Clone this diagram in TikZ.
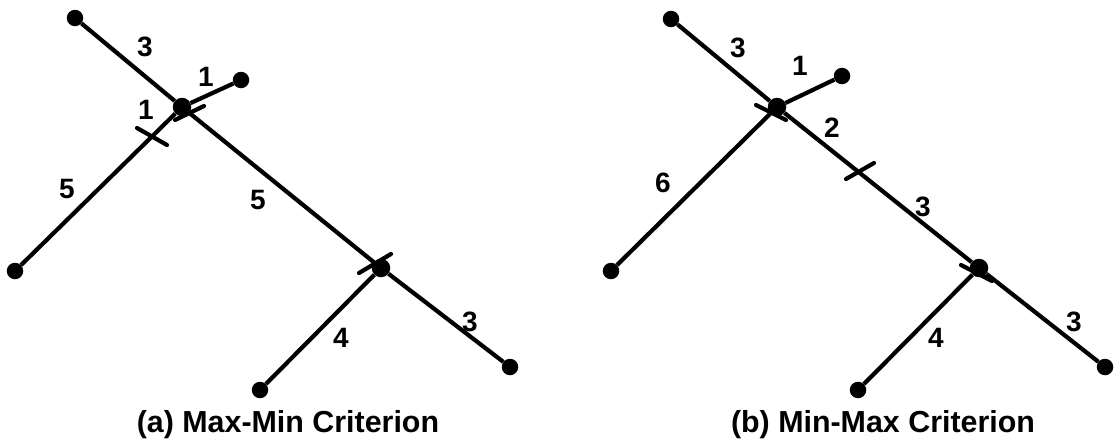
\documentclass[tikz,border=0pt]{standalone}
\usepackage{fontspec}
\setmainfont{Liberation Sans}
\begin{document}
\begin{tikzpicture}[x=1pt,y=-1pt,
  dot/.style={circle,fill=black,inner sep=0pt,minimum size=16.5pt},
  hub/.style={circle,fill=black,inner sep=0pt,minimum size=18.5pt},
  edge/.style={line width=4.2pt},
  cutmark/.style={line width=4.2pt,line cap=round},
  lab/.style={font=\fontsize{28}{30}\selectfont\bfseries,inner sep=0pt},
  caption/.style={font=\fontsize{30.4}{32}\selectfont\bfseries,inner sep=0pt,anchor=base}]
\useasboundingbox (0,0) rectangle (1114,439);
% (a)
\node[dot] (aT) at (75,18) {};
\node[hub] (aC) at (182,107) {};
\node[dot] (aR) at (241,80) {};
\node[dot] (aL) at (15,271) {};
\node[hub] (aD) at (381,268) {};
\node[dot] (aE) at (510,367) {};
\node[dot] (aB) at (260,390) {};
\draw[edge] (aT) -- (aC);
\draw[edge] (aC) -- (aR);
\draw[edge] (aC) -- (aL);
\draw[edge] (aC) -- (aD);
\draw[edge] (aD) -- (aE);
\draw[edge] (aD) -- (aB);
\draw[cutmark] (137,128) -- (167,145);
\draw[cutmark] (175,120) -- (204,106);
\draw[cutmark] (359,273) -- (391,254);
\node[lab] (la1) at (145,47) {3};
\node[lab] (la2) at (206,77) {1};
\node[lab] (la3) at (146,110) {1};
\node[lab] (la4) at (67,189) {5};
\node[lab] (la5) at (258,200) {5};
\node[lab] (la6) at (341,338) {4};
\node[lab] (la7) at (470,322) {3};
\node[caption] (capa) at (288,432) {(a) Max-Min Criterion};
% (b)
\node[dot] (bT) at (671,19) {};
\node[hub] (bC) at (777,107) {};
\node[dot] (bR) at (842,76) {};
\node[dot] (bL) at (611,271) {};
\node[hub] (bD) at (979,268) {};
\node[dot] (bE) at (1105,367) {};
\node[dot] (bB) at (858,390) {};
\draw[edge] (bT) -- (bC);
\draw[edge] (bC) -- (bR);
\draw[edge] (bC) -- (bL);
\draw[edge] (bC) -- (bD);
\draw[edge] (bD) -- (bE);
\draw[edge] (bD) -- (bB);
\draw[cutmark] (756,105) -- (786,120);
\draw[cutmark] (846,179) -- (874,163);
\draw[cutmark] (961,265) -- (992,281);
\node[lab] (lb1) at (738,48) {3};
\node[lab] (lb2) at (800,66) {1};
\node[lab] (lb3) at (832,128) {2};
\node[lab] (lb4) at (663,183) {6};
\node[lab] (lb5) at (923,207) {3};
\node[lab] (lb6) at (936,338) {4};
\node[lab] (lb7) at (1074,322) {3};
\node[caption] (capb) at (883,432) {(b) Min-Max Criterion};
\end{tikzpicture}
\end{document}
